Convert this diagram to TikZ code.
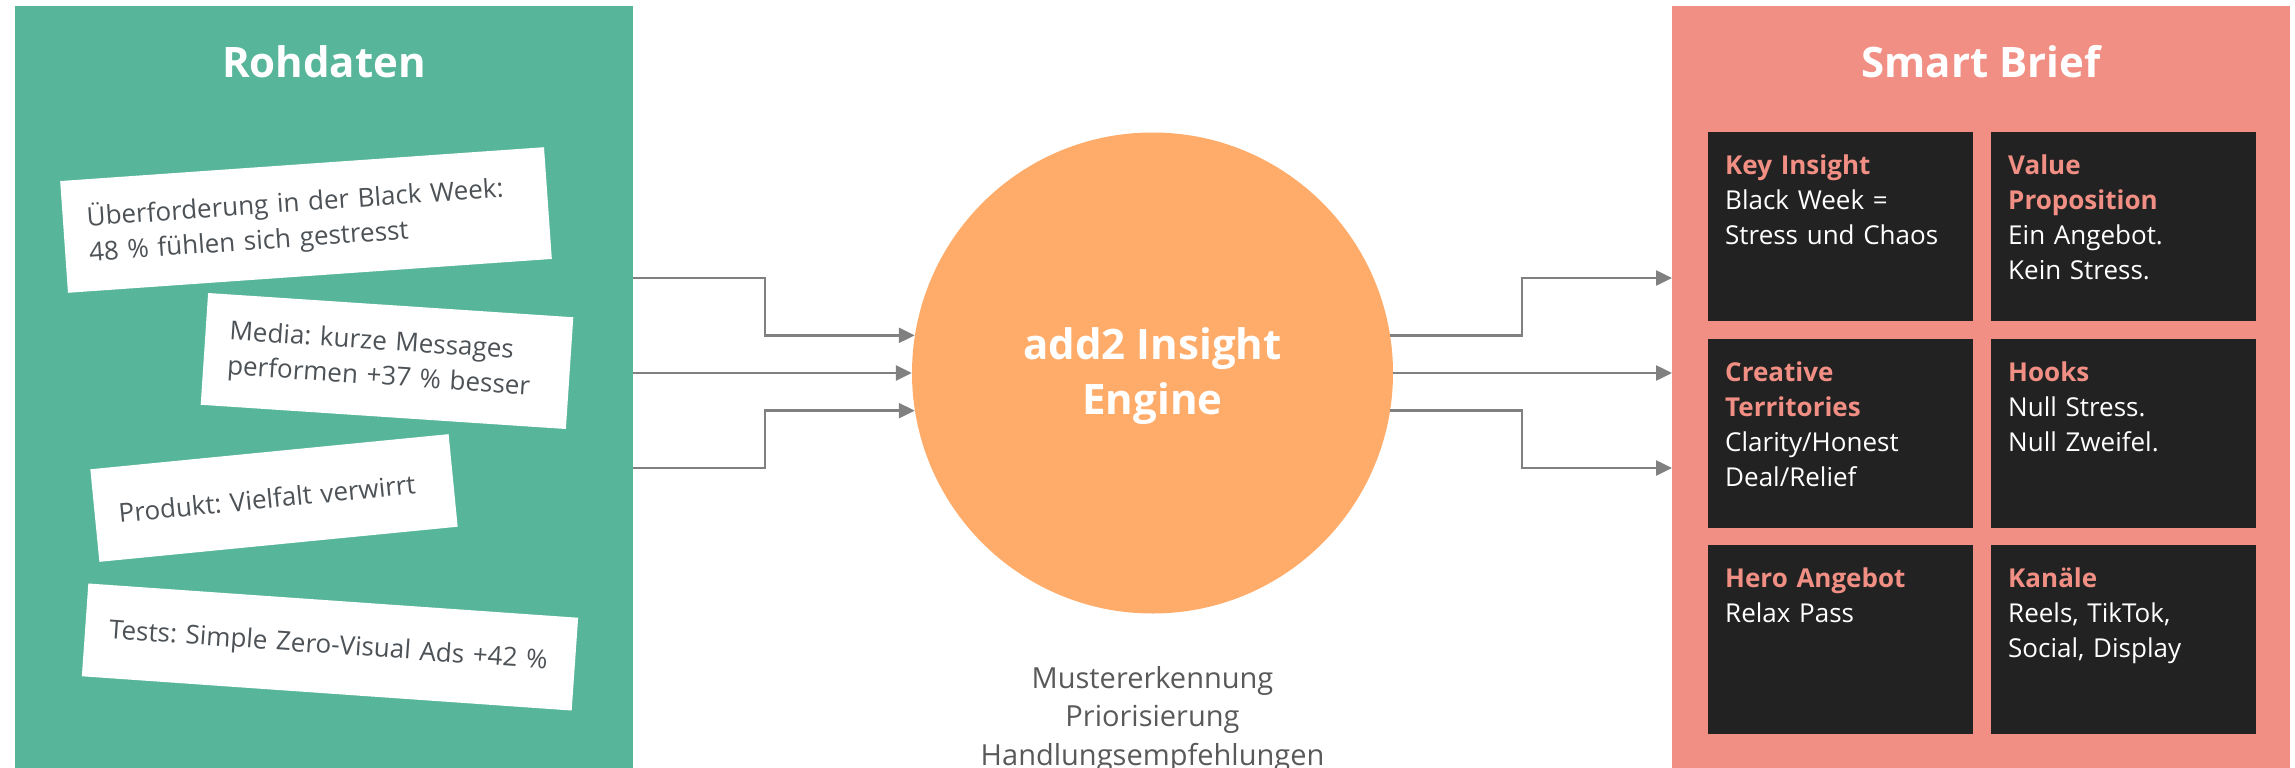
\documentclass[tikz,border=0pt]{standalone}
\usepackage{fontspec}
\setmainfont{Open Sans}
\usetikzlibrary{arrows.meta, positioning}
\definecolor{rohgreen}{HTML}{57B69A}
\definecolor{briefred}{HTML}{F28F84}
\definecolor{engineorange}{HTML}{FFAC6A}
\definecolor{boxdark}{HTML}{222222}
\definecolor{arrowgray}{HTML}{808080}
\definecolor{cardtext}{HTML}{4D5257}
\definecolor{notegray}{HTML}{595959}
\frenchspacing

\begin{document}
\begin{tikzpicture}[x=1pt, y=-1pt]
    \tikzset{
        panel/.style={anchor=north west, minimum width=618pt, minimum height=762pt, inner sep=0pt},
        paneltitle/.style={text=white, inner sep=0pt, font=\fontsize{42}{50}\selectfont\bfseries},
        card/.style={fill=white, inner xsep=24pt, inner ysep=0pt, align=left, text=cardtext, font=\fontsize{26}{35}\selectfont},
        engine/.style={circle, fill=engineorange, minimum size=481pt, inner sep=0pt, align=center, text=white, font=\fontsize{42}{55}\selectfont\bfseries},
        engnote/.style={inner sep=0pt, align=center, text=notegray, font=\fontsize{29}{38.5}\selectfont},
        briefbox/.style={fill=boxdark, anchor=north west, minimum width=265pt, minimum height=189pt, inner sep=0pt},
        brieftext/.style={anchor=north west, inner sep=0pt, xshift=17pt, yshift=-17.5pt, text width=240pt, align=left, text=white, font=\fontsize{26}{35}\selectfont},
        flow/.style={draw=arrowgray, line width=2.5pt, -{Triangle[length=16pt, width=15pt]}}
    }
    \useasboundingbox (0,0) rectangle (2295,768);

    \node[panel, fill=rohgreen] (rohdaten) at (15,6) {};
    \node[paneltitle] (rohtitle) at (324,62) {Rohdaten};

    \node[card, text width=437pt, minimum height=112pt, rotate=4.0] (card1) at (306,220) {Überforderung in der Black Week:\\48 \% fühlen sich gestresst};
    \node[card, text width=318pt, minimum height=112pt, rotate=-3.8] (card2) at (387,361) {Media: kurze Messages\\performen +37 \% besser};
    \node[card, text width=312pt, minimum height=93pt, rotate=5.6] (card3) at (274,498) {\mbox{Produkt: Vielfalt verwirrt}};
    \node[card, text width=443pt, minimum height=93pt, rotate=-4.0] (card4) at (330,647) {\mbox{Tests: Simple Zero-Visual Ads +42 \%}};

    \node[engine] (engine) at (1152.5,373) {\strut add2 Insight\\Engine};
    \node[engnote, below=47.5pt of engine] (engnote) {\strut Mustererkennung\\Priorisierung\\Handlungsempfehlungen};

    \node[panel, fill=briefred] (brief) at (1672,6) {};
    \node[paneltitle] (brieftitle) at (1981,62) {Smart Brief};

    \node[briefbox] (keyinsight) at (1708,132) {};
    \node[briefbox] (valueprop) at (1991,132) {};
    \node[briefbox] (creative) at (1708,339) {};
    \node[briefbox] (hooks) at (1991,339) {};
    \node[briefbox] (hero) at (1708,545) {};
    \node[briefbox] (kanaele) at (1991,545) {};
    \node[brieftext] at (keyinsight.north west) {\strut\textcolor{briefred}{\bfseries Key Insight}\\Black Week =\\Stress und Chaos};
    \node[brieftext] at (valueprop.north west) {\strut\textcolor{briefred}{\bfseries Value}\\\textcolor{briefred}{\bfseries Proposition}\\Ein Angebot.\\Kein Stress.};
    \node[brieftext] at (creative.north west) {\strut\textcolor{briefred}{\bfseries Creative}\\\textcolor{briefred}{\bfseries Territories}\\Clarity/Honest\\Deal/Relief};
    \node[brieftext] at (hooks.north west) {\strut\textcolor{briefred}{\bfseries Hooks}\\Null Stress.\\Null Zweifel.};
    \node[brieftext] at (hero.north west) {\strut\textcolor{briefred}{\bfseries Hero Angebot}\\Relax Pass};
    \node[brieftext] at (kanaele.north west) {\strut\textcolor{briefred}{\bfseries Kanäle}\\Reels, TikTok,\\Social, Display};

    \draw[flow] (rohdaten.east |- 0,278) -- (765,278) |- (engine.171);
    \draw[flow] (rohdaten.east |- engine.west) -- (engine.west);
    \draw[flow] (rohdaten.east |- 0,468) -- (765,468) |- (engine.189);

    \draw[flow] (engine.9) -| (1522,278) -- (brief.west |- 0,278);
    \draw[flow] (engine.east) -- (brief.west |- engine.east);
    \draw[flow] (engine.-9) -| (1522,468) -- (brief.west |- 0,468);
\end{tikzpicture}
\end{document}
